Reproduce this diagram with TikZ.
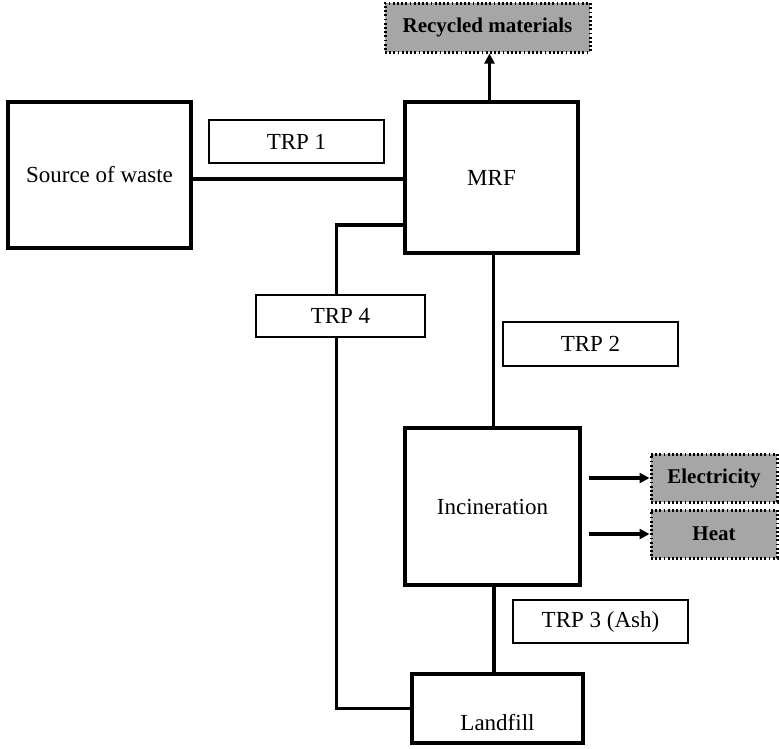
\documentclass[tikz,border=0pt]{standalone}
\usepackage{fontspec}
\setmainfont{Liberation Serif}
\usetikzlibrary{arrows.meta}
\definecolor{boxgray}{HTML}{A6A6A6}
\begin{document}
\begin{tikzpicture}[x=1pt,y=-1pt,
  every node/.style={font=\fontsize{23}{27}\selectfont, inner sep=0pt},
  mainbox/.style={draw, line width=3.2pt, rectangle},
  lblbox/.style={draw, line width=1.6pt, fill=white, rectangle},
  outbox/.style={draw, line width=3pt, dash pattern=on 1.8pt off 2.4pt, fill=boxgray, rectangle, font=\fontsize{21}{25}\selectfont\bfseries},
  conn/.style={line width=3.2pt},
  arr/.style={line width=3.2pt, -{Triangle[length=10pt,width=10pt]}}]
\useasboundingbox (0,0) rectangle (779,748);
\node[mainbox, minimum width=183, minimum height=146] (src) at (99.5,175) {Source of waste};
\node[mainbox, minimum width=173, minimum height=151] (mrf) at (491.5,177.5) {MRF};
\node[outbox, minimum width=205, minimum height=49] (rec) at (487.5,27.5) {Recycled materials};
\node[mainbox, minimum width=175, minimum height=157] (inc) at (492.5,506.5) {Incineration};
\node[outbox, minimum width=126, minimum height=48] (elec) at (714,478) {Electricity};
\node[outbox, minimum width=126, minimum height=48] (heat) at (714,534) {Heat};
\node[mainbox, minimum width=171, minimum height=69] (land) at (497.5,708.5) {};
\node (landtxt) at ([yshift=-14]land.center) {Landfill};
\draw[conn] ([yshift=-4]src.east) -- ([yshift=-4]src.east -| mrf.west);
\draw[arr] ([xshift=-2]mrf.north) -- ([xshift=-2]mrf.north |- rec.south);
\draw[conn] ([yshift=-47.5]mrf.west) -- ++(-67,0) |- (land.west);
\draw[conn] ([xshift=2]mrf.south) -- ([xshift=2]mrf.south |- inc.north);
\draw[conn] ([xshift=1.5]inc.south) -- ([xshift=1.5]inc.south |- land.north);
\draw[arr] ([xshift=7]inc.east |- elec.west) -- (elec.west);
\draw[arr] ([xshift=7]inc.east |- heat.west) -- (heat.west);
\node[lblbox, minimum width=175, minimum height=43] (trp1) at (296.5,141.5) {TRP 1};
\node[lblbox, minimum width=169, minimum height=42] (trp4) at (340.5,316) {TRP 4};
\node[lblbox, minimum width=175, minimum height=44] (trp2) at (590.5,344) {TRP 2};
\node[lblbox, minimum width=175, minimum height=43] (trp3) at (600.5,621.5) {TRP 3 (Ash)};
\end{tikzpicture}
\end{document}
